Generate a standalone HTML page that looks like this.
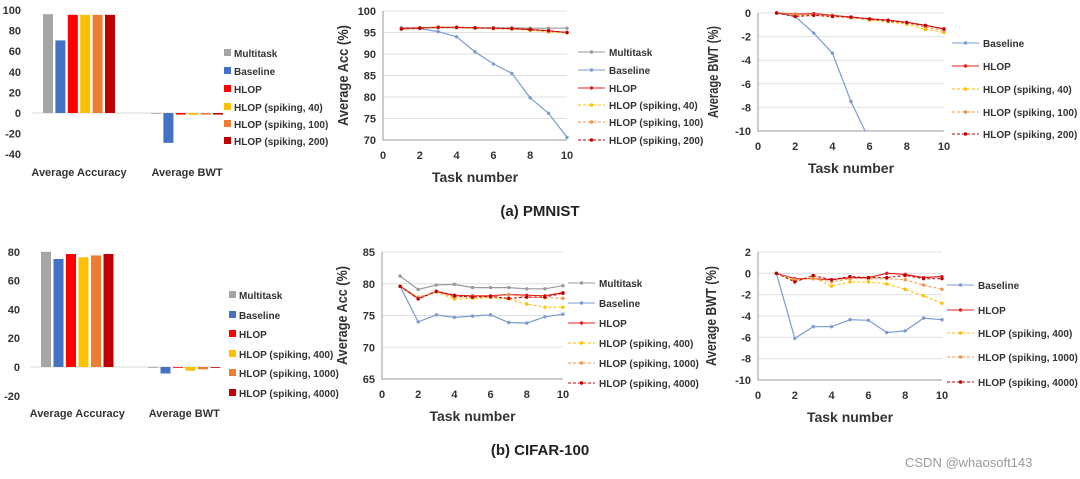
<!DOCTYPE html>
<html><head><meta charset="utf-8"><style>
html,body{margin:0;padding:0;background:#fff;}
svg{display:block;font-family:"Liberation Sans",sans-serif;}
</style></head><body>
<svg id="fig" width="1080" height="479" viewBox="0 0 1080 479">
<text x="540" y="216" text-anchor="middle" font-size="15" font-weight="bold" fill="#222">(a) PMNIST</text>
<text x="540" y="455" text-anchor="middle" font-size="15" font-weight="bold" fill="#222">(b) CIFAR-100</text>
<text x="905" y="467" font-size="13" fill="#9a9a9a">CSDN @whaosoft143</text>
</svg>
<script>
const tasks=[1,2,3,4,5,6,7,8,9,10];
const xTicks=[0,2,4,6,8,10];
const barCats=["Average Accuracy","Average BWT"];
const pBarAcc=[96,70.5,95.3,95.3,95.3,95.3];
const pBarBwt=[0,-29,-1.5,-1.8,-1.6,-1.5];
const pBarNames=["Multitask","Baseline","HLOP","HLOP (spiking, 40)","HLOP (spiking, 100)","HLOP (spiking, 200)"];
const pBarTicks=[100,80,60,40,20,0,-20,-40];
const cBarAcc=[80,75,78.5,76.2,77.5,78.5];
const cBarBwt=[0,-4.5,-0.4,-2.6,-1.6,-0.4];
const cBarNames=["Multitask","Baseline","HLOP","HLOP (spiking, 400)","HLOP (spiking, 1000)","HLOP (spiking, 4000)"];
const cBarTicks=[80,60,40,20,0,-20];
const pAccMulti=[96.1,96.1,96.1,96.1,96.1,96.1,96.1,96.0,96.0,96.0];
const pAccBase=[96.0,95.9,95.2,94.0,90.5,87.7,85.5,79.8,76.2,70.6];
const pAccHlop=[95.9,96.1,96.2,96.2,96.1,96.0,95.9,95.7,95.4,95.0];
const pAccS1=[95.8,96.0,96.3,96.2,96.1,95.9,95.8,95.5,95.1,94.9];
const pAccS2=[95.8,96.0,96.2,96.1,96.0,95.9,95.8,95.6,95.3,95.0];
const pAccS3=[95.8,96.0,96.2,96.2,96.1,96.0,95.9,95.7,95.4,95.0];
const pAccTicks=[100,95,90,85,80,75,70];
const pBwtBase=[0,-0.3,-1.7,-3.4,-7.5,-10.8,-14,-17,-20,-23];
const pBwtHlop=[0,-0.1,-0.05,-0.2,-0.35,-0.5,-0.6,-0.8,-1.05,-1.35];
const pBwtS1=[0,-0.2,-0.2,-0.3,-0.4,-0.6,-0.75,-0.95,-1.4,-1.65];
const pBwtS2=[0,-0.15,-0.15,-0.25,-0.4,-0.55,-0.7,-0.85,-1.2,-1.5];
const pBwtS3=[0,-0.3,-0.2,-0.3,-0.35,-0.5,-0.65,-0.8,-1.05,-1.35];
const pBwtTicks=[0,-2,-4,-6,-8,-10];
const cAccMulti=[81.2,79.1,79.8,79.9,79.4,79.4,79.4,79.2,79.2,79.7];
const cAccBase=[79.6,74.0,75.1,74.7,74.9,75.1,73.9,73.8,74.8,75.2];
const cAccHlop=[79.6,77.7,78.8,78.2,78.1,78.1,78.3,78.2,78.1,78.6];
const cAccS1=[79.6,77.8,78.7,77.6,77.7,77.8,77.6,76.8,76.3,76.3];
const cAccS2=[79.6,77.9,78.7,77.9,78.0,77.9,78.3,77.9,77.8,77.7];
const cAccS3=[79.6,77.6,78.8,78.1,77.9,78.0,77.7,77.9,77.9,78.5];
const cAccTicks=[85,80,75,70,65];
const cBwtBase=[0,-6.1,-5.0,-5.0,-4.35,-4.4,-5.55,-5.4,-4.2,-4.35];
const cBwtHlop=[0,-0.5,-0.5,-0.6,-0.4,-0.4,0,-0.1,-0.4,-0.3];
const cBwtS1=[0,-0.7,-0.4,-1.2,-0.8,-0.8,-1.0,-1.5,-2.1,-2.8];
const cBwtS2=[0,-0.6,-0.5,-0.8,-0.5,-0.5,-0.5,-0.6,-1.1,-1.5];
const cBwtS3=[0,-0.8,-0.2,-0.6,-0.3,-0.4,-0.4,-0.2,-0.5,-0.5];
const cBwtTicks=[2,0,-2,-4,-6,-8,-10];

const NS="http://www.w3.org/2000/svg";
const svg=document.getElementById('fig');
const barColors=["#a5a5a5","#4472c4","#ff0000","#ffc000","#ed7d31","#c00000"];
const lineColors={multi:"#9a9a9a",base:"#7b9bd2",hlop:"#e32222",s1:"#ffc000",s2:"#f0964e",s3:"#c00000"};
const LF=10, TF=11;
function el(t,a,p){const e=document.createElementNS(NS,t);for(const k in a)e.setAttribute(k,a[k]);(p||svg).appendChild(e);return e;}
function txt(x,y,s,a,p){const e=el('text',Object.assign({x:x,y:y},a),p);e.textContent=s;return e;}

function barChart(o){
  const g=el('g',{});
  
  
  const y=v=>o.y0-v*o.k;
  o.ticks.forEach(t=>{const e=txt(o.tickX,y(t)+4,String(t),{'text-anchor':'end','font-size':TF,'font-weight':'bold',fill:'#333'},g);
    });
  const zl=el('line',{x1:o.zx1,x2:o.zx2,y1:y(0),y2:y(0),stroke:'#d9d9d9','stroke-width':1},g);
  
  [o.acc,o.bwt].forEach((vals,gi)=>{
    vals.forEach((v,i)=>{
      const x=o.gx[gi]+i*o.step;
      const r=el('rect',{x:x,y:Math.min(y(v),y(0)),width:o.bw,height:Math.max(Math.abs(y(v)-y(0)),0.8),fill:barColors[i]},g);
      
      
    });
    const c=txt(o.gx[gi]+2.5*o.step+o.bw/2,o.catY,barCats[gi],{'text-anchor':'middle','font-size':TF,'font-weight':'bold',fill:'#333'},g);
    
  });
  o.names.forEach((n,i)=>{
    const yy=o.legY[i];
    const sq=el('rect',{x:o.legX,y:yy-4,width:7,height:7,fill:barColors[i]},g);
    
    const t=txt(o.legX+10,yy+4,n,{'font-size':LF,'font-weight':'bold',fill:'#333'},g);
    
  });
}
barChart({name:'pmnist-bar-chart',y0:113,k:1.03,ticks:pBarTicks,tickX:21,zx1:32,zx2:214,gx:[43,151],step:12.4,bw:10,
  acc:pBarAcc,bwt:pBarBwt,catY:176,names:pBarNames,legX:224,legY:[53,71,89,107,124,141]});
barChart({name:'cifar-bar-chart',y0:367,k:1.44,ticks:cBarTicks,tickX:20,zx1:30,zx2:212,gx:[41,148],step:12.5,bw:10,
  acc:cBarAcc,bwt:cBarBwt,catY:417,names:cBarNames,legX:229,legY:[295,315,334,354,373,393]});

function lineChart(o){
  const g=el('g',{});
  
  
  const X=v=>o.x0+(v/10)*(o.x1-o.x0);
  const Y=v=>o.yTop+(o.ymax-v)/(o.ymax-o.ymin)*(o.yBot-o.yTop);
  o.ticks.forEach(t=>{
    if(t!==o.ymin){const gl=el('line',{x1:o.x0,x2:o.x1,y1:Y(t),y2:Y(t),stroke:'#e0e0e0','stroke-width':1},g);
      }
    const e=txt(o.x0-7,Y(t)+4,String(t),{'text-anchor':'end','font-size':TF,'font-weight':'bold',fill:'#333'},g);
    
  });
  const ax=el('path',{d:`M${o.x0},${o.yTop} V${o.yBot} H${o.x1}`,stroke:'#9a9a9a',fill:'none','stroke-width':1},g);
  
  xTicks.forEach(t=>{const e=txt(X(t),o.yBot+19,String(t),{'text-anchor':'middle','font-size':TF,'font-weight':'bold',fill:'#333'},g);
    });
  const xt=txt((o.x0+o.x1)/2,o.yBot+42,'Task number',{'text-anchor':'middle','font-size':14,'font-weight':'bold',fill:'#333'},g);
  
  const yc=(o.yTop+o.yBot)/2;
  const yt=txt(o.ytX,yc,o.ytitle,{'text-anchor':'middle','font-size':15,'font-weight':'bold',fill:'#333',textLength:Math.round((o.yBot-o.yTop)*0.78),lengthAdjust:'spacingAndGlyphs',transform:`rotate(-90 ${o.ytX} ${yc})`},g);
  
  const cid='clip-'+o.name;
  const cp=el('clipPath',{id:cid},g);el('rect',{x:o.x0-5,y:o.yTop-5,width:o.x1-o.x0+10,height:o.yBot-o.yTop+5},cp);
  const sg=el('g',{'clip-path':`url(#${cid})`},g);
  o.series.forEach((s,si)=>{
    const d=tasks.map((t,i)=>(i?'L':'M')+X(t).toFixed(1)+','+Y(s.v[i]).toFixed(1)).join(' ');
    const p=el('path',{d:d,stroke:s.c,fill:'none','stroke-width':s.dash?1:1.2,'stroke-dasharray':s.dash?'3,2':'none'},sg);
    
    tasks.forEach((t,i)=>{const m=el('circle',{cx:X(t),cy:Y(s.v[i]),r:1.7,fill:s.c},sg);
      });
    const ly=o.legY[si];
    const ll=el('line',{x1:o.legX,x2:o.legX+27,y1:ly,y2:ly,stroke:s.c,'stroke-width':1,'stroke-dasharray':s.dash?'3,2':'none'},g);
    
    el('circle',{cx:o.legX+13.5,cy:ly,r:1.7,fill:s.c},g);
    const lt=txt(o.legX+31,ly+4,s.n,{'font-size':LF,'font-weight':'bold',fill:'#333'},g);
    
  });
}
const C=lineColors;
lineChart({name:'pmnist-acc-chart',x0:383,x1:567,yTop:11,yBot:140,ymax:100,ymin:70,ticks:pAccTicks,ytitle:'Average Acc (%)',ytX:348,
  legX:578,legY:[52,70,88,105,122,140],series:[
  {n:'Multitask',v:pAccMulti,c:C.multi},{n:'Baseline',v:pAccBase,c:C.base},{n:'HLOP',v:pAccHlop,c:C.hlop},
  {n:'HLOP (spiking, 40)',v:pAccS1,c:C.s1,dash:1},{n:'HLOP (spiking, 100)',v:pAccS2,c:C.s2,dash:1},{n:'HLOP (spiking, 200)',v:pAccS3,c:C.s3,dash:1}]});
lineChart({name:'pmnist-bwt-chart',x0:758,x1:944,yTop:13,yBot:131,ymax:0,ymin:-10,ticks:pBwtTicks,ytitle:'Average BWT (%)',ytX:718,
  legX:952,legY:[43,66,89,112,134],series:[
  {n:'Baseline',v:pBwtBase,c:C.base},{n:'HLOP',v:pBwtHlop,c:C.hlop},
  {n:'HLOP (spiking, 40)',v:pBwtS1,c:C.s1,dash:1},{n:'HLOP (spiking, 100)',v:pBwtS2,c:C.s2,dash:1},{n:'HLOP (spiking, 200)',v:pBwtS3,c:C.s3,dash:1}]});
lineChart({name:'cifar-acc-chart',x0:382,x1:563,yTop:252,yBot:379,ymax:85,ymin:65,ticks:cAccTicks,ytitle:'Average Acc (%)',ytX:347,
  legX:568,legY:[283,303,323,343,363,383],series:[
  {n:'Multitask',v:cAccMulti,c:C.multi},{n:'Baseline',v:cAccBase,c:C.base},{n:'HLOP',v:cAccHlop,c:C.hlop},
  {n:'HLOP (spiking, 400)',v:cAccS1,c:C.s1,dash:1},{n:'HLOP (spiking, 1000)',v:cAccS2,c:C.s2,dash:1},{n:'HLOP (spiking, 4000)',v:cAccS3,c:C.s3,dash:1}]});
lineChart({name:'cifar-bwt-chart',x0:758,x1:942,yTop:252,yBot:380,ymax:2,ymin:-10,ticks:cBwtTicks,ytitle:'Average BWT (%)',ytX:716,
  legX:947,legY:[285,310,333,357,382],series:[
  {n:'Baseline',v:cBwtBase,c:C.base},{n:'HLOP',v:cBwtHlop,c:C.hlop},
  {n:'HLOP (spiking, 400)',v:cBwtS1,c:C.s1,dash:1},{n:'HLOP (spiking, 1000)',v:cBwtS2,c:C.s2,dash:1},{n:'HLOP (spiking, 4000)',v:cBwtS3,c:C.s3,dash:1}]});
</script>
</body></html>
